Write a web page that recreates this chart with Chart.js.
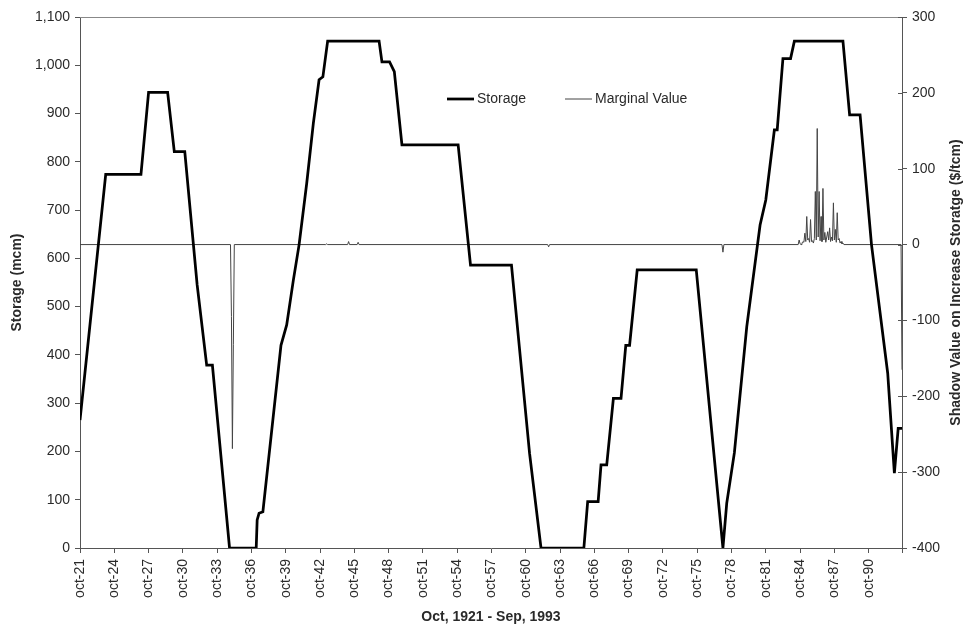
<!DOCTYPE html>
<html><head><meta charset="utf-8">
<script src="https://cdn.jsdelivr.net/npm/chart.js@4.4.1/dist/chart.umd.min.js"></script>
<style>html,body{margin:0;padding:0;background:#fff}#wrap{width:965px;height:628px;position:relative}</style>
</head><body><div id="wrap"><canvas id="c" width="965" height="628"></canvas></div>
<script>
// Months counted from Oct 1921 (0) to Sep 1993 (863)
const lastMonth = 863;
const tickMonths = [0,36,72,108,144,180,216,252,288,324,360,396,432,468,504,540,576,612,648,684,720,756,792,828];
const tickLabels = ['oct-21','oct-24','oct-27','oct-30','oct-33','oct-36','oct-39','oct-42','oct-45','oct-48','oct-51','oct-54','oct-57','oct-60','oct-63','oct-66','oct-69','oct-72','oct-75','oct-78','oct-81','oct-84','oct-87','oct-90'];

// Storage (mcm) – vertices of the storage trace
const storageMonths = [0,27,64,72,92,99,110,123,133,139,157,185,186,188,192,211,217,224,230,238,245,251,255,260,314,317,325,330,338,397,410,453,472,484,529,533,544,547,553,560,568,573,577,585,647,675,679,687,700,714,720,729,732,738,746,750,801,808,819,831,848,855,859,863];
const storageValues = [265,774,774,944,944,821,821,545,379,379,0,0,58,72,75,420,462,555,628,755,880,970,976,1050,1050,1007,1007,987,835,835,586,586,196,0,0,96,96,172,172,310,310,420,420,576,576,0,93,197,458,669,721,866,866,1014,1014,1050,1050,897,897,628,362,155,248,248];

// Marginal value ($/tcm) – shadow value on increase storage
const marginalMonths = [0,158,159,160,161,162,258,259,260,281,282,283,291,292,293,491,492,493,674,675,676,
  754,755,756,757,758,759,760,761,762,763,764,765,766,767,768,769,770,771,772,773,774,775,776,777,778,779,780,781,782,783,784,785,786,787,788,789,790,791,792,793,794,795,796,797,798,799,800,801,802,862,863];
const marginalValues = [0,0,-95,-269,-132,0,0,1,0,0,4,0,0,3,0,0,-3,0,0,-10,0,
  0,6,1,0,2,4,3,15,4,37,6,8,3,33,4,5,2,8,70,6,153,10,70,5,37,4,74,6,16,3,10,17,6,22,4,10,5,55,6,20,3,42,6,8,2,4,1,2,0,0,-165];

const storagePts = storageMonths.map((m,i)=>({x:m,y:storageValues[i]}));
const marginalPts = marginalMonths.map((m,i)=>({x:m,y:marginalValues[i]}));

const FONT = "'Liberation Sans', Arial, sans-serif";
const TXT = '#2a2a2a';
const AX = '#555';

const extras = {
  id:'extras',
  afterDraw(chart){
    const ctx = chart.ctx, a = chart.chartArea;
    const cy = (a.top + a.bottom) / 2;
    ctx.save();
    // top border
    ctx.strokeStyle = '#888'; ctx.lineWidth = 1;
    ctx.beginPath(); ctx.moveTo(a.left, a.top+0.5); ctx.lineTo(a.right, a.top+0.5); ctx.stroke();
    // inner part of cross ticks on right axis
    const y1 = chart.scales.y1;
    ctx.strokeStyle = AX;
    y1.ticks.forEach(t=>{
      const yy = Math.round(y1.getPixelForValue(t.value))+0.5;
      ctx.beginPath(); ctx.moveTo(a.right-4, yy); ctx.lineTo(a.right, yy); ctx.stroke();
    });
    // axis titles (both read bottom-to-top)
    ctx.fillStyle = TXT; ctx.textAlign='center'; ctx.textBaseline='middle';
    ctx.font = "bold 14px "+FONT;
    ctx.save(); ctx.translate(17, cy); ctx.rotate(-Math.PI/2); ctx.fillText('Storage (mcm)',0,0); ctx.restore();
    ctx.save(); ctx.translate(956, cy); ctx.rotate(-Math.PI/2); ctx.fillText('Shadow Value on Increase Storatge ($/tcm)',0,0); ctx.restore();
    // legend inside plot
    const ds = chart.data.datasets;
    const ly = 99;
    const items = [{x:447, w:27, tx:477}, {x:565, w:27, tx:595}];
    ctx.font = "14px "+FONT; ctx.textAlign='left';
    items.forEach((it,i)=>{
      ctx.strokeStyle = ds[i].borderColor; ctx.lineWidth = ds[i].borderWidth;
      ctx.beginPath(); ctx.moveTo(it.x, ly); ctx.lineTo(it.x+it.w, ly); ctx.stroke();
      ctx.fillStyle = TXT; ctx.fillText(ds[i].label, it.tx, ly);
    });
    ctx.restore();
  }
};

new Chart(document.getElementById('c'), {
  type:'line',
  data:{datasets:[
    {label:'Storage', data:storagePts, yAxisID:'y', borderColor:'#000', borderWidth:2.75, pointRadius:0, tension:0, fill:false},
    {label:'Marginal Value', data:marginalPts, yAxisID:'y1', borderColor:'#444', borderWidth:1, pointRadius:0, tension:0, fill:false}
  ]},
  options:{
    responsive:false, animation:false, devicePixelRatio:1,
    layout:{padding:{top:17,left:0,right:0,bottom:0}},
    plugins:{legend:{display:false}, tooltip:{enabled:false}},
    scales:{
      x:{type:'linear', position:'bottom', min:0, max:lastMonth,
        afterBuildTicks(s){ s.ticks = tickMonths.map(v=>({value:v})).concat([{value:lastMonth}]); },
        afterFit(s){ s.height = 80; },
        ticks:{autoSkip:false, minRotation:90, maxRotation:90, padding:6, color:TXT, font:{family:FONT,size:14},
          callback(v){ const i = tickMonths.indexOf(v); return i>=0 ? tickLabels[i] : ''; }},
        grid:{drawOnChartArea:false, drawTicks:true, tickLength:5, color:AX},
        border:{display:true, color:AX, width:1},
        title:{display:true, text:'Oct, 1921 - Sep, 1993', color:TXT, font:{family:FONT,size:14,weight:'bold'}, padding:{top:0,bottom:2}}
      },
      y:{type:'linear', position:'left', min:0, max:1100,
        afterFit(s){ s.width = 80; },
        ticks:{stepSize:100, padding:5, color:TXT, font:{family:FONT,size:14},
          callback(v){ return Number(v).toLocaleString('en-US'); }},
        grid:{drawOnChartArea:false, drawTicks:true, tickLength:5, color:AX},
        border:{display:true, color:AX, width:1}
      },
      y1:{type:'linear', position:'right', min:-400, max:300,
        afterFit(s){ s.width = 63; },
        ticks:{stepSize:100, padding:5, color:TXT, font:{family:FONT,size:14},
          callback(v){ return String(v); }},
        grid:{drawOnChartArea:false, drawTicks:true, tickLength:5, color:AX},
        border:{display:true, color:AX, width:1}
      }
    }
  },
  plugins:[extras]
});
</script></body></html>
